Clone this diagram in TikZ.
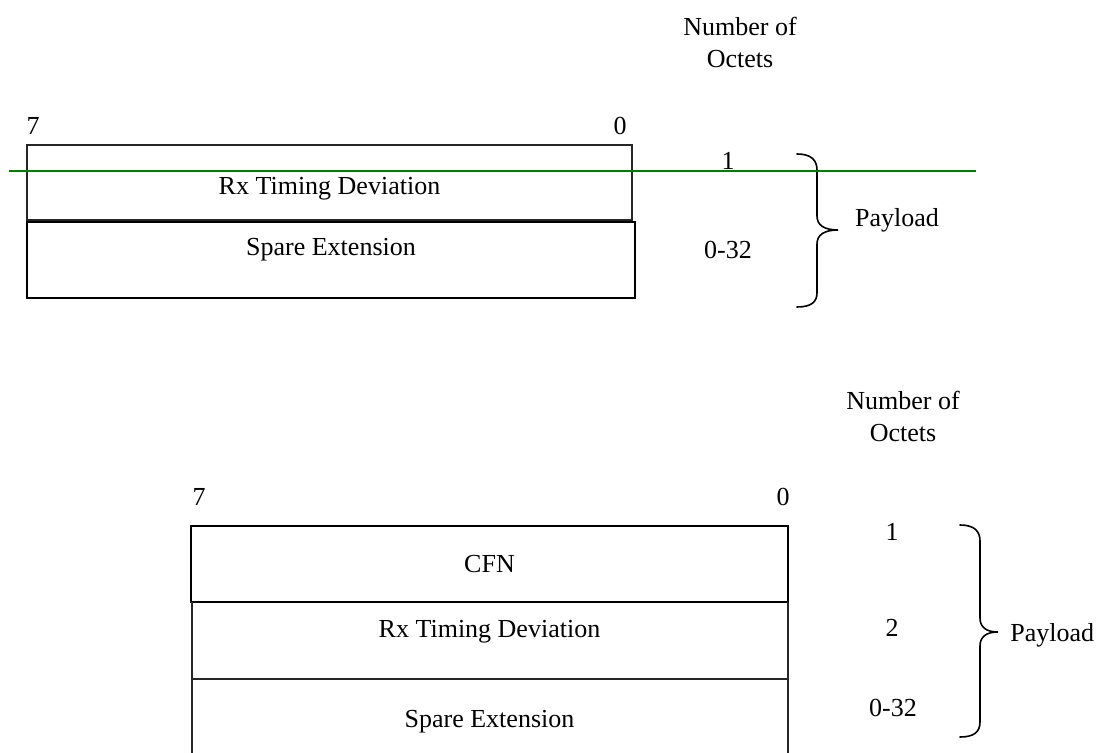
\documentclass[tikz,border=0pt]{standalone}
\usepackage{fontspec}
\setmainfont{Liberation Serif}
\definecolor{mkgreen}{RGB}{0,128,0}
\begin{document}
\begin{tikzpicture}[x=0.5pt,y=-0.5pt,
  lbl/.style={font=\fontsize{13}{16}\selectfont, inner sep=0pt, anchor=base},
  hdr/.style={font=\fontsize{13}{16}\selectfont, inner sep=0pt, anchor=north, align=center},
  thinbox/.style={draw=black!85, line width=0.65pt},
  thickbox/.style={draw=black, line width=1pt},
  bracepath/.style={draw=black, line width=0.8pt, line cap=round},
  marker/.style={draw=mkgreen, line width=1.1pt}]
\useasboundingbox (0,0) rectangle (1100,753);

% ---------- first frame: Rx Timing Deviation + Spare Extension ----------
\node[hdr] (octA) at (740,17) {Number of\\Octets};
\node[lbl] (msbA) at (33,135) {7};
\node[lbl] (lsbA) at (620,135) {0};

\draw[thinbox]  (27,145) rectangle (632,220);
\draw[thickbox] (27,222) rectangle (635,298);
\node[lbl] (rtdA) at (329.5,195) {Rx Timing Deviation};
\node[lbl] (speA) at (331,256) {Spare Extension};

\node[lbl] (n1A) at (728,170) {1};
\node[lbl] (n2A) at (728,259) {0-32};

\draw[bracepath] (797,154) .. controls (811,154) and (817,160) .. (817,170)
  -- (817,216) .. controls (817,225) and (824,230) .. (838,230)
  .. controls (824,230) and (817,235) .. (817,244)
  -- (817,293) .. controls (817,302) and (811,307) .. (797,307);
\node[lbl] (plA) at (897,227) {Payload};

\coordinate (mkL) at (9,171);
\coordinate (mkR) at (976,171);
\draw[marker] (mkL) -- (mkR);

% ---------- second frame: CFN + Rx Timing Deviation + Spare Extension ----------
\node[hdr] (octB) at (903,391) {Number of\\Octets};
\node[lbl] (msbB) at (199,506) {7};
\node[lbl] (lsbB) at (783,506) {0};

\draw[thickbox] (191,526) rectangle (788,602);
\draw[thinbox] (192,602) -- (192,770);
\draw[thinbox] (788,602) -- (788,770);
\draw[thinbox] (192,679) -- (788,679);
\node[lbl] (cfnB) at (489.5,573) {CFN};
\node[lbl] (rtdB) at (489.5,638) {Rx Timing Deviation};
\node[lbl] (speB) at (489.5,728) {Spare Extension};

\node[lbl] (n1B) at (892,541) {1};
\node[lbl] (n2B) at (892,637) {2};
\node[lbl] (n3B) at (893,717) {0-32};

\draw[bracepath] (960,525) .. controls (974,525) and (980,531) .. (980,541)
  -- (980,618) .. controls (980,627) and (986,632) .. (998,632)
  .. controls (986,632) and (980,637) .. (980,646)
  -- (980,722) .. controls (980,732) and (974,737) .. (960,737);
\node[lbl, anchor=base west] (plB) at (1010,642) {Payload};
\end{tikzpicture}
\end{document}
